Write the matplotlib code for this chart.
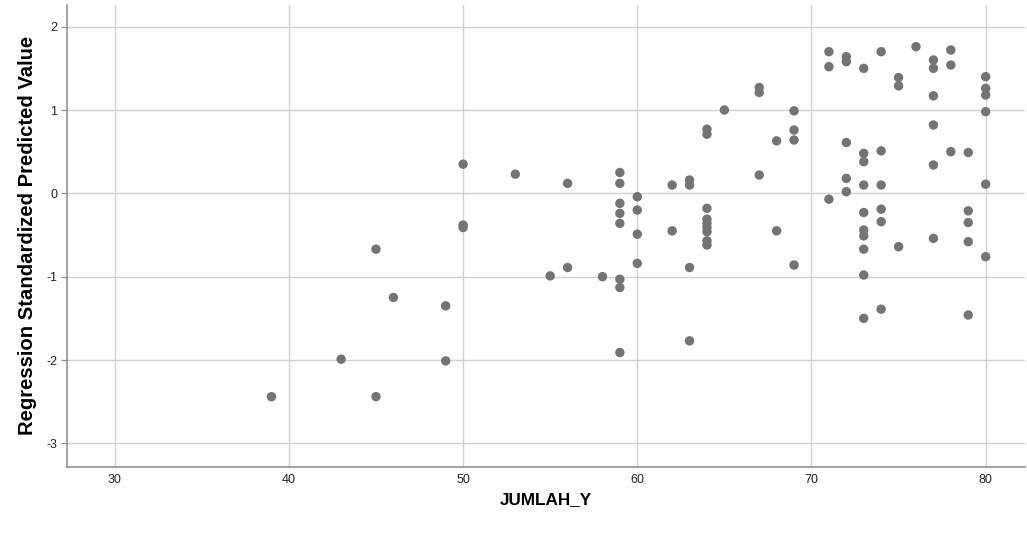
import matplotlib
matplotlib.use("Agg")
import matplotlib.pyplot as plt

plt.rcParams['font.family'] = ['Liberation Sans', 'DejaVu Sans']
plt.rcParams['axes.unicode_minus'] = False

# JUMLAH_Y vs regression standardized predicted value
jumlah_y = [39, 43, 45, 45, 46, 49, 49, 50, 50, 50, 53, 55, 56, 56, 58,
            59, 59, 59, 59, 59, 59, 59, 59,
            60, 60, 60, 60, 62, 62, 63, 63, 63, 63,
            64, 64, 64, 64, 64, 64, 64, 64, 64, 65,
            67, 67, 67, 68, 68, 69, 69, 69, 69,
            71, 71, 71, 72, 72, 72, 72, 72,
            73, 73, 73, 73, 73, 73, 73, 73, 73, 73,
            74, 74, 74, 74, 74, 74, 75, 75, 75, 76,
            77, 77, 77, 77, 77, 77, 78, 78, 78,
            79, 79, 79, 79, 79, 80, 80, 80, 80, 80, 80]
pred_value = [-2.44, -1.99, -0.67, -2.44, -1.25, -1.35, -2.01, 0.35, -0.38, -0.41,
              0.23, -0.99, 0.12, -0.89, -1.00,
              0.25, 0.12, -0.12, -0.24, -0.36, -1.03, -1.13, -1.91,
              -0.04, -0.20, -0.49, -0.84, 0.10, -0.45, 0.16, 0.10, -0.89, -1.77,
              0.77, 0.71, -0.18, -0.31, -0.36, -0.41, -0.46, -0.57, -0.62, 1.00,
              1.27, 1.21, 0.22, 0.63, -0.45, 0.99, 0.76, 0.64, -0.86,
              1.70, 1.52, -0.07, 1.64, 1.58, 0.61, 0.18, 0.02,
              1.50, 0.48, 0.38, 0.10, -0.23, -0.44, -0.51, -0.67, -0.98, -1.50,
              1.70, 0.51, 0.10, -0.19, -0.34, -1.39, 1.39, 1.29, -0.64, 1.76,
              1.60, 1.50, 1.17, 0.82, 0.34, -0.54, 1.72, 1.54, 0.50,
              0.49, -0.21, -0.35, -0.58, -1.46, 1.40, 1.26, 1.18, 0.98, 0.11, -0.76]

x_ticks = [30, 40, 50, 60, 70, 80]
y_ticks = [-3, -2, -1, 0, 1, 2]

fig = plt.figure(figsize=(10.27, 5.33), dpi=100)
ax = fig.add_axes([0.0652, 0.1244, 0.9329, 0.8662])

ax.scatter(jumlah_y, pred_value, s=46, color='#747474', edgecolors='none', zorder=3)

ax.set_xlim(27.26, 82.26)
ax.set_ylim(-3.28, 2.26)
ax.set_xticks(x_ticks)
ax.set_yticks(y_ticks)
ax.set_axisbelow(True)
ax.grid(True, color='#d2d2d2', linewidth=1.0)

for side in ['top', 'right']:
    ax.spines[side].set_visible(False)
for side in ['left', 'bottom']:
    ax.spines[side].set_color('#8a8a8a')
    ax.spines[side].set_linewidth(1.1)

ax.tick_params(axis='x', length=0, pad=5, labelsize=9, colors='#222222')
ax.tick_params(axis='y', length=4, width=0.8, color='#8a8a8a', pad=3,
               labelsize=9, labelcolor='#222222')

ax.set_xlabel('JUMLAH_Y', fontsize=12.3, fontweight='bold', labelpad=4.5)
ax.set_ylabel('Regression Standardized Predicted Value', fontsize=14.6,
              fontweight='bold', labelpad=7)

fig.savefig('out.png', dpi=100)
